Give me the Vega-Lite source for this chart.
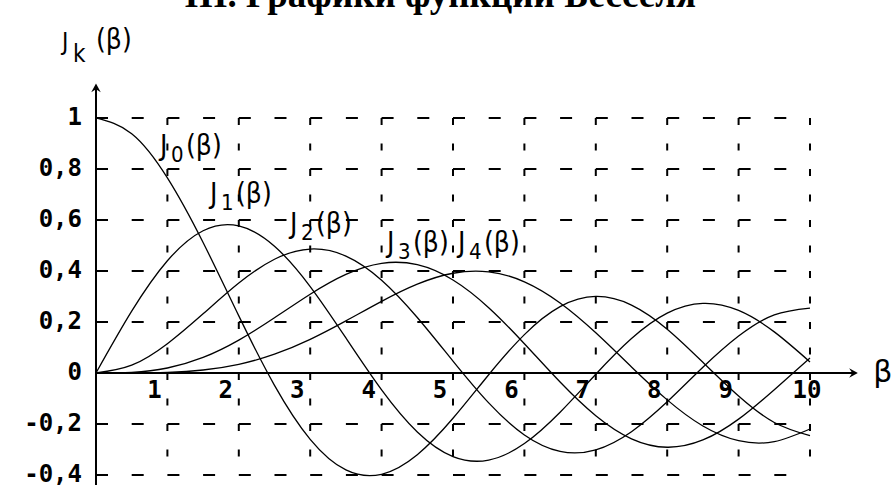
{
  "$schema": "https://vega.github.io/schema/vega-lite/v6.json",
  "width": 892,
  "height": 485,
  "padding": 0,
  "autosize": {"type": "none"},
  "background": "white",
  "config": {"view": {"stroke": null}},
  "datasets": {
    "bessel": [
      {"b": 0, "J0": 1, "J1": 0, "J2": 0, "J3": 0, "J4": 0},
      {"b": 0.5, "J0": 0.9385, "J1": 0.2423, "J2": 0.0306, "J3": 0.0026, "J4": 0.0002},
      {"b": 1, "J0": 0.7652, "J1": 0.4401, "J2": 0.1149, "J3": 0.0196, "J4": 0.0025},
      {"b": 1.5, "J0": 0.5118, "J1": 0.5579, "J2": 0.2321, "J3": 0.061, "J4": 0.0118},
      {"b": 2, "J0": 0.2239, "J1": 0.5767, "J2": 0.3528, "J3": 0.1289, "J4": 0.034},
      {"b": 2.5, "J0": -0.0484, "J1": 0.4971, "J2": 0.4461, "J3": 0.2166, "J4": 0.0738},
      {"b": 3, "J0": -0.2601, "J1": 0.3391, "J2": 0.4861, "J3": 0.3091, "J4": 0.132},
      {"b": 3.5, "J0": -0.3801, "J1": 0.1374, "J2": 0.4586, "J3": 0.3868, "J4": 0.2044},
      {"b": 4, "J0": -0.3971, "J1": -0.066, "J2": 0.3641, "J3": 0.4302, "J4": 0.2811},
      {"b": 4.5, "J0": -0.3205, "J1": -0.2311, "J2": 0.2178, "J3": 0.4247, "J4": 0.3484},
      {"b": 5, "J0": -0.1776, "J1": -0.3276, "J2": 0.0466, "J3": 0.3648, "J4": 0.3912},
      {"b": 5.5, "J0": -0.0068, "J1": -0.3414, "J2": -0.1173, "J3": 0.2561, "J4": 0.3967},
      {"b": 6, "J0": 0.1506, "J1": -0.2767, "J2": -0.2429, "J3": 0.1148, "J4": 0.3576},
      {"b": 6.5, "J0": 0.2601, "J1": -0.1538, "J2": -0.3074, "J3": -0.0354, "J4": 0.2747},
      {"b": 7, "J0": 0.3001, "J1": -0.0047, "J2": -0.3014, "J3": -0.1676, "J4": 0.1578},
      {"b": 7.5, "J0": 0.2663, "J1": 0.1352, "J2": -0.2302, "J3": -0.258, "J4": 0.0238},
      {"b": 8, "J0": 0.1717, "J1": 0.2346, "J2": -0.113, "J3": -0.2911, "J4": -0.1054},
      {"b": 8.5, "J0": 0.0419, "J1": 0.2731, "J2": 0.0224, "J3": -0.2626, "J4": -0.2078},
      {"b": 9, "J0": -0.0903, "J1": 0.2453, "J2": 0.1448, "J3": -0.1809, "J4": -0.2655},
      {"b": 9.5, "J0": -0.1939, "J1": 0.1613, "J2": 0.2279, "J3": -0.0653, "J4": -0.2691},
      {"b": 10, "J0": -0.2459, "J1": 0.0435, "J2": 0.2546, "J3": 0.0584, "J4": -0.2196}
    ],
    "hgrid": [
      {"v": 1, "from": 0, "to": 10},
      {"v": 0.8, "from": 0, "to": 10},
      {"v": 0.6, "from": 0, "to": 10},
      {"v": 0.4, "from": 0, "to": 10},
      {"v": 0.2, "from": 0, "to": 10},
      {"v": -0.2, "from": 0, "to": 10},
      {"v": -0.4, "from": 0, "to": 9.7}
    ],
    "vgrid": [
      {"b": 1, "top": 1, "bottom": -0.35},
      {"b": 2, "top": 1, "bottom": -0.35},
      {"b": 3, "top": 1, "bottom": -0.35},
      {"b": 4, "top": 1, "bottom": -0.35},
      {"b": 5, "top": 1, "bottom": -0.35},
      {"b": 6, "top": 1, "bottom": -0.35},
      {"b": 7, "top": 1, "bottom": -0.35},
      {"b": 8, "top": 1, "bottom": -0.35},
      {"b": 9, "top": 1, "bottom": -0.35},
      {"b": 10, "top": 1, "bottom": -0.35}
    ],
    "xaxis": [{"from": 0, "to": 10.62, "v": 0}],
    "yaxis": [{"b": 0, "from": -0.45, "to": 1.12}],
    "xarrow": [{"b": 10.67, "v": 0}],
    "yarrow": [{"b": 0, "v": 1.135}],
    "ylabels": [
      {"v": 1, "label": "1"},
      {"v": 0.8, "label": "0,8"},
      {"v": 0.6, "label": "0,6"},
      {"v": 0.4, "label": "0,4"},
      {"v": 0.2, "label": "0,2"},
      {"v": 0, "label": "0"},
      {"v": -0.2, "label": "-0,2"},
      {"v": -0.4, "label": "-0,4"}
    ],
    "xlabels": [
      {"b": 1, "label": "1"},
      {"b": 2, "label": "2"},
      {"b": 3, "label": "3"},
      {"b": 4, "label": "4"},
      {"b": 5, "label": "5"},
      {"b": 6, "label": "6"},
      {"b": 7, "label": "7"},
      {"b": 8, "label": "8"},
      {"b": 9, "label": "9"}
    ],
    "xlabel10": [{"b": 10, "label": "10"}],
    "curvelabels": [
      {"b": 0.896, "v": 0.855, "sub": "0"},
      {"b": 1.597, "v": 0.667, "sub": "1"},
      {"b": 2.717, "v": 0.549, "sub": "2"},
      {"b": 4.076, "v": 0.4745, "sub": "3"},
      {"b": 5.07, "v": 0.4745, "sub": "4"}
    ],
    "ytitle": [{"b": -0.476, "v": 1.267, "sub": "k"}],
    "xtitle": [{"b": 11.02, "v": 0, "label": "β"}],
    "title": [{"b": 4.82, "v": 1.437, "label": "III. Графики функции Бесселя"}]
  },
  "layer": [
    {
      "data": {"name": "hgrid"},
      "mark": {"type": "rule", "color": "black", "strokeWidth": 2, "strokeDash": [12, 23.7]},
      "encoding": {
        "x": {"field": "from", "type": "quantitative", "scale": {"domain": [-1.3445, 11.1485], "nice": false, "zero": false}, "axis": null},
        "x2": {"field": "to"},
        "y": {"field": "v", "type": "quantitative", "scale": {"domain": [-0.4392, 1.4627], "nice": false, "zero": false}, "axis": null}
      }
    },
    {
      "data": {"name": "vgrid"},
      "mark": {"type": "rule", "color": "black", "strokeWidth": 2, "strokeDash": [7, 18.5]},
      "encoding": {
        "x": {"field": "b", "type": "quantitative", "scale": {"domain": [-1.3445, 11.1485], "nice": false, "zero": false}, "axis": null},
        "y": {"field": "top", "type": "quantitative", "scale": {"domain": [-0.4392, 1.4627], "nice": false, "zero": false}, "axis": null},
        "y2": {"field": "bottom"}
      }
    },
    {
      "data": {"name": "bessel"},
      "transform": [{"fold": ["J0", "J1", "J2", "J3", "J4"], "as": ["k", "val"]}],
      "mark": {"type": "line", "color": "black", "strokeWidth": 1.3, "interpolate": "natural"},
      "encoding": {
        "x": {"field": "b", "type": "quantitative", "scale": {"domain": [-1.3445, 11.1485], "nice": false, "zero": false}, "axis": null},
        "y": {"field": "val", "type": "quantitative", "scale": {"domain": [-0.4392, 1.4627], "nice": false, "zero": false}, "axis": null},
        "detail": {"field": "k", "type": "nominal"}
      }
    },
    {
      "data": {"name": "xaxis"},
      "mark": {"type": "rule", "color": "black", "strokeWidth": 2},
      "encoding": {
        "x": {"field": "from", "type": "quantitative", "scale": {"domain": [-1.3445, 11.1485], "nice": false, "zero": false}, "axis": null},
        "x2": {"field": "to"},
        "y": {"field": "v", "type": "quantitative", "scale": {"domain": [-0.4392, 1.4627], "nice": false, "zero": false}, "axis": null}
      }
    },
    {
      "data": {"name": "yaxis"},
      "mark": {"type": "rule", "color": "black", "strokeWidth": 2},
      "encoding": {
        "x": {"field": "b", "type": "quantitative", "scale": {"domain": [-1.3445, 11.1485], "nice": false, "zero": false}, "axis": null},
        "y": {"field": "from", "type": "quantitative", "scale": {"domain": [-0.4392, 1.4627], "nice": false, "zero": false}, "axis": null},
        "y2": {"field": "to"}
      }
    },
    {
      "data": {"name": "xarrow"},
      "mark": {"type": "point", "shape": "M0,0 L-1,-0.55 L-0.65,0 L-1,0.55 Z", "filled": true, "color": "black", "size": 300, "opacity": 1},
      "encoding": {
        "x": {"field": "b", "type": "quantitative", "scale": {"domain": [-1.3445, 11.1485], "nice": false, "zero": false}, "axis": null},
        "y": {"field": "v", "type": "quantitative", "scale": {"domain": [-0.4392, 1.4627], "nice": false, "zero": false}, "axis": null}
      }
    },
    {
      "data": {"name": "yarrow"},
      "mark": {"type": "point", "shape": "M0,0 L-0.55,1 L0,0.65 L0.55,1 Z", "filled": true, "color": "black", "size": 300, "opacity": 1},
      "encoding": {
        "x": {"field": "b", "type": "quantitative", "scale": {"domain": [-1.3445, 11.1485], "nice": false, "zero": false}, "axis": null},
        "y": {"field": "v", "type": "quantitative", "scale": {"domain": [-0.4392, 1.4627], "nice": false, "zero": false}, "axis": null}
      }
    },
    {
      "data": {"name": "ylabels"},
      "mark": {"type": "text", "align": "right", "baseline": "middle", "dx": -14, "font": "DejaVu Sans Mono", "fontWeight": "bold", "fontSize": 24, "color": "black"},
      "encoding": {
        "x": {"datum": 0, "type": "quantitative", "scale": {"domain": [-1.3445, 11.1485], "nice": false, "zero": false}, "axis": null},
        "y": {"field": "v", "type": "quantitative", "scale": {"domain": [-0.4392, 1.4627], "nice": false, "zero": false}, "axis": null},
        "text": {"field": "label"}
      }
    },
    {
      "data": {"name": "xlabels"},
      "mark": {"type": "text", "align": "center", "baseline": "middle", "dx": -13, "dy": 18, "font": "DejaVu Sans Mono", "fontWeight": "bold", "fontSize": 24, "color": "black"},
      "encoding": {
        "x": {"field": "b", "type": "quantitative", "scale": {"domain": [-1.3445, 11.1485], "nice": false, "zero": false}, "axis": null},
        "y": {"datum": 0, "type": "quantitative", "scale": {"domain": [-0.4392, 1.4627], "nice": false, "zero": false}, "axis": null},
        "text": {"field": "label"}
      }
    },
    {
      "data": {"name": "xlabel10"},
      "mark": {"type": "text", "align": "center", "baseline": "middle", "dx": -3, "dy": 18, "font": "DejaVu Sans Mono", "fontWeight": "bold", "fontSize": 24, "color": "black"},
      "encoding": {
        "x": {"field": "b", "type": "quantitative", "scale": {"domain": [-1.3445, 11.1485], "nice": false, "zero": false}, "axis": null},
        "y": {"datum": 0, "type": "quantitative", "scale": {"domain": [-0.4392, 1.4627], "nice": false, "zero": false}, "axis": null},
        "text": {"field": "label"}
      }
    },
    {
      "data": {"name": "curvelabels"},
      "mark": {"type": "text", "align": "left", "baseline": "alphabetic", "font": "DejaVu Sans Condensed, DejaVu Sans", "fontSize": 28, "color": "black"},
      "encoding": {
        "x": {"field": "b", "type": "quantitative", "scale": {"domain": [-1.3445, 11.1485], "nice": false, "zero": false}, "axis": null},
        "y": {"field": "v", "type": "quantitative", "scale": {"domain": [-0.4392, 1.4627], "nice": false, "zero": false}, "axis": null},
        "text": {"value": "J"}
      }
    },
    {
      "data": {"name": "curvelabels"},
      "mark": {"type": "text", "align": "left", "baseline": "alphabetic", "dx": 11, "dy": 7, "font": "DejaVu Sans Condensed, DejaVu Sans", "fontSize": 22, "color": "black"},
      "encoding": {
        "x": {"field": "b", "type": "quantitative", "scale": {"domain": [-1.3445, 11.1485], "nice": false, "zero": false}, "axis": null},
        "y": {"field": "v", "type": "quantitative", "scale": {"domain": [-0.4392, 1.4627], "nice": false, "zero": false}, "axis": null},
        "text": {"field": "sub"}
      }
    },
    {
      "data": {"name": "curvelabels"},
      "mark": {"type": "text", "align": "left", "baseline": "alphabetic", "dx": 26, "font": "DejaVu Sans Condensed, DejaVu Sans", "fontSize": 28, "color": "black"},
      "encoding": {
        "x": {"field": "b", "type": "quantitative", "scale": {"domain": [-1.3445, 11.1485], "nice": false, "zero": false}, "axis": null},
        "y": {"field": "v", "type": "quantitative", "scale": {"domain": [-0.4392, 1.4627], "nice": false, "zero": false}, "axis": null},
        "text": {"value": "(β)"}
      }
    },
    {
      "data": {"name": "ytitle"},
      "mark": {"type": "text", "align": "left", "baseline": "alphabetic", "font": "DejaVu Sans Condensed, DejaVu Sans", "fontSize": 24, "color": "black"},
      "encoding": {
        "x": {"field": "b", "type": "quantitative", "scale": {"domain": [-1.3445, 11.1485], "nice": false, "zero": false}, "axis": null},
        "y": {"field": "v", "type": "quantitative", "scale": {"domain": [-0.4392, 1.4627], "nice": false, "zero": false}, "axis": null},
        "text": {"value": "J"}
      }
    },
    {
      "data": {"name": "ytitle"},
      "mark": {"type": "text", "align": "left", "baseline": "alphabetic", "dx": 11, "dy": 12, "font": "DejaVu Sans Condensed, DejaVu Sans", "fontSize": 24, "color": "black"},
      "encoding": {
        "x": {"field": "b", "type": "quantitative", "scale": {"domain": [-1.3445, 11.1485], "nice": false, "zero": false}, "axis": null},
        "y": {"field": "v", "type": "quantitative", "scale": {"domain": [-0.4392, 1.4627], "nice": false, "zero": false}, "axis": null},
        "text": {"field": "sub"}
      }
    },
    {
      "data": {"name": "ytitle"},
      "mark": {"type": "text", "align": "left", "baseline": "alphabetic", "dx": 34, "dy": -1, "font": "DejaVu Sans Condensed, DejaVu Sans", "fontSize": 28, "color": "black"},
      "encoding": {
        "x": {"field": "b", "type": "quantitative", "scale": {"domain": [-1.3445, 11.1485], "nice": false, "zero": false}, "axis": null},
        "y": {"field": "v", "type": "quantitative", "scale": {"domain": [-0.4392, 1.4627], "nice": false, "zero": false}, "axis": null},
        "text": {"value": "(β)"}
      }
    },
    {
      "data": {"name": "xtitle"},
      "mark": {"type": "text", "align": "center", "baseline": "middle", "font": "DejaVu Sans", "fontSize": 30, "color": "black"},
      "encoding": {
        "x": {"field": "b", "type": "quantitative", "scale": {"domain": [-1.3445, 11.1485], "nice": false, "zero": false}, "axis": null},
        "y": {"field": "v", "type": "quantitative", "scale": {"domain": [-0.4392, 1.4627], "nice": false, "zero": false}, "axis": null},
        "text": {"field": "label"}
      }
    },
    {
      "data": {"name": "title"},
      "mark": {"type": "text", "align": "center", "baseline": "alphabetic", "font": "Liberation Serif", "fontWeight": "bold", "fontSize": 37, "color": "black"},
      "encoding": {
        "x": {"field": "b", "type": "quantitative", "scale": {"domain": [-1.3445, 11.1485], "nice": false, "zero": false}, "axis": null},
        "y": {"field": "v", "type": "quantitative", "scale": {"domain": [-0.4392, 1.4627], "nice": false, "zero": false}, "axis": null},
        "text": {"field": "label"}
      }
    }
  ]
}
